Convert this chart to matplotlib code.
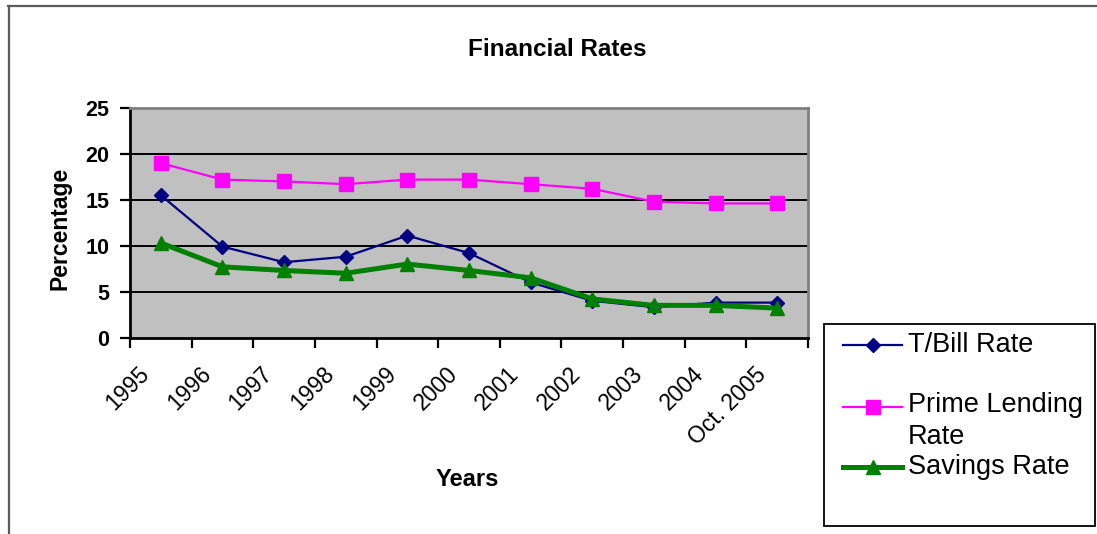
import matplotlib
matplotlib.use("Agg")
import matplotlib.pyplot as plt
import matplotlib.transforms as mtransforms
from matplotlib.lines import Line2D
from matplotlib.patches import Rectangle

plt.rcParams['font.family'] = ['Liberation Sans', 'DejaVu Sans']

years = ["1995", "1996", "1997", "1998", "1999", "2000", "2001",
         "2002", "2003", "2004", "Oct. 2005"]
tbill_rate = [15.5, 9.9, 8.2, 8.8, 11.1, 9.2, 6.0, 4.0, 3.3, 3.8, 3.8]
prime_lending_rate = [19.0, 17.2, 17.0, 16.7, 17.2, 17.2, 16.7, 16.2, 14.8, 14.6, 14.6]
savings_rate = [10.3, 7.7, 7.3, 7.0, 8.0, 7.3, 6.5, 4.2, 3.5, 3.5, 3.2]
y_ticks = [0, 5, 10, 15, 20, 25]

W, H = 1097, 534
fig = plt.figure(figsize=(W / 100, H / 100), dpi=100)
fig.patch.set_facecolor("white")

# chart frame (clipped at right and bottom)
fig.add_artist(Line2D([8 / W, 1.0], [1 - 5.5 / H, 1 - 5.5 / H], color="#5a5a5a", lw=1.6))
fig.add_artist(Line2D([8.5 / W, 8.5 / W], [1 - 5.5 / H, 0], color="#5a5a5a", lw=1.6))

left, right, top, bottom = 130, 808, 108, 337.5
ax = fig.add_axes([left / W, 1 - bottom / H, (right - left) / W, (bottom - top) / H])
ax.set_facecolor("#C0C0C0")

x = list(range(len(years)))
ax.plot(x, tbill_rate, color="#000080", lw=1.6, marker="D", ms=7.5, mec="#000080",
        mfc="#000080", zorder=4, clip_on=False)
ax.plot(x, prime_lending_rate, color="#FF00FF", lw=1.6, marker="s", ms=10.5,
        mec="#FF00FF", mfc="#FF00FF", zorder=3, clip_on=False)
ax.plot(x, savings_rate, color="#008000", lw=3.6, marker="^", ms=10.5, mec="#008000",
        mfc="#008000", zorder=5, clip_on=False)

ax.set_xlim(-0.5, len(years) - 0.5)
ax.set_ylim(0, 25)
ax.set_yticks(y_ticks)
ax.set_yticklabels([str(t) for t in y_ticks], fontsize=15.5, fontweight="bold")
for t in y_ticks[1:-1]:
    ax.axhline(t, color="black", lw=1.4, zorder=1)

# category ticks sit on the boundaries, labels at category centres
ax.set_xticks([i - 0.5 for i in range(len(years) + 1)])
ax.set_xticklabels([])
ax.set_xticks(x, minor=True)
ax.set_xticklabels(years, minor=True, rotation=45, ha="right", va="center",
                   rotation_mode="anchor", fontsize=16.5)
ax.tick_params(axis="x", which="minor", length=0, pad=24)
ax.tick_params(axis="x", which="major", length=7, width=1.6, direction="out", color="black")
ax.tick_params(axis="y", length=7, width=1.6, direction="out", pad=8, color="black")
shift = mtransforms.ScaledTranslation(-0.15, 0, fig.dpi_scale_trans)
for lab in ax.get_xticklabels(minor=True):
    lab.set_transform(lab.get_transform() + shift)

for side in ("left", "bottom"):
    ax.spines[side].set_color("black")
    ax.spines[side].set_linewidth(2.0)
for side in ("top", "right"):
    ax.spines[side].set_color("#808080")
    ax.spines[side].set_linewidth(2.0)

fig.text(557 / W, 1 - 50 / H, "Financial Rates", ha="center", va="center",
         fontsize=17.5, fontweight="bold")
fig.text(60 / W, 1 - 228 / H, "Percentage", ha="center", va="center", rotation=90,
         fontsize=16.5, fontweight="bold")
fig.text(467 / W, 1 - 479 / H, "Years", ha="center", va="center",
         fontsize=17, fontweight="bold")

# legend box
fig.add_artist(Rectangle((824 / W, 1 - 526 / H), (1095 - 824) / W, (526 - 324) / H,
                         facecolor="white", edgecolor="black", lw=1.3))
entries = [
    ("T/Bill Rate", "#000080", "D", 7.5, 1.6, 345),
    ("Prime Lending\nRate", "#FF00FF", "s", 10.5, 1.6, 407),
    ("Savings Rate", "#008000", "^", 10.5, 3.6, 467),
]
for label, col, mk, ms, lw, yy in entries:
    fy = 1 - yy / H
    fig.add_artist(Line2D([843 / W, 902 / W], [fy, fy], color=col, lw=lw))
    fig.add_artist(Line2D([872.5 / W], [fy], color=col, marker=mk, ms=ms, mfc=col, mec=col))
    fig.text(908 / W, fy, label, ha="left", va="top" if "\n" in label else "center",
             fontsize=19.5, linespacing=1.3,
             transform=fig.transFigure + mtransforms.ScaledTranslation(
                 0, (0.15 if "\n" in label else 0), fig.dpi_scale_trans))

fig.savefig("out.png", dpi=100)
